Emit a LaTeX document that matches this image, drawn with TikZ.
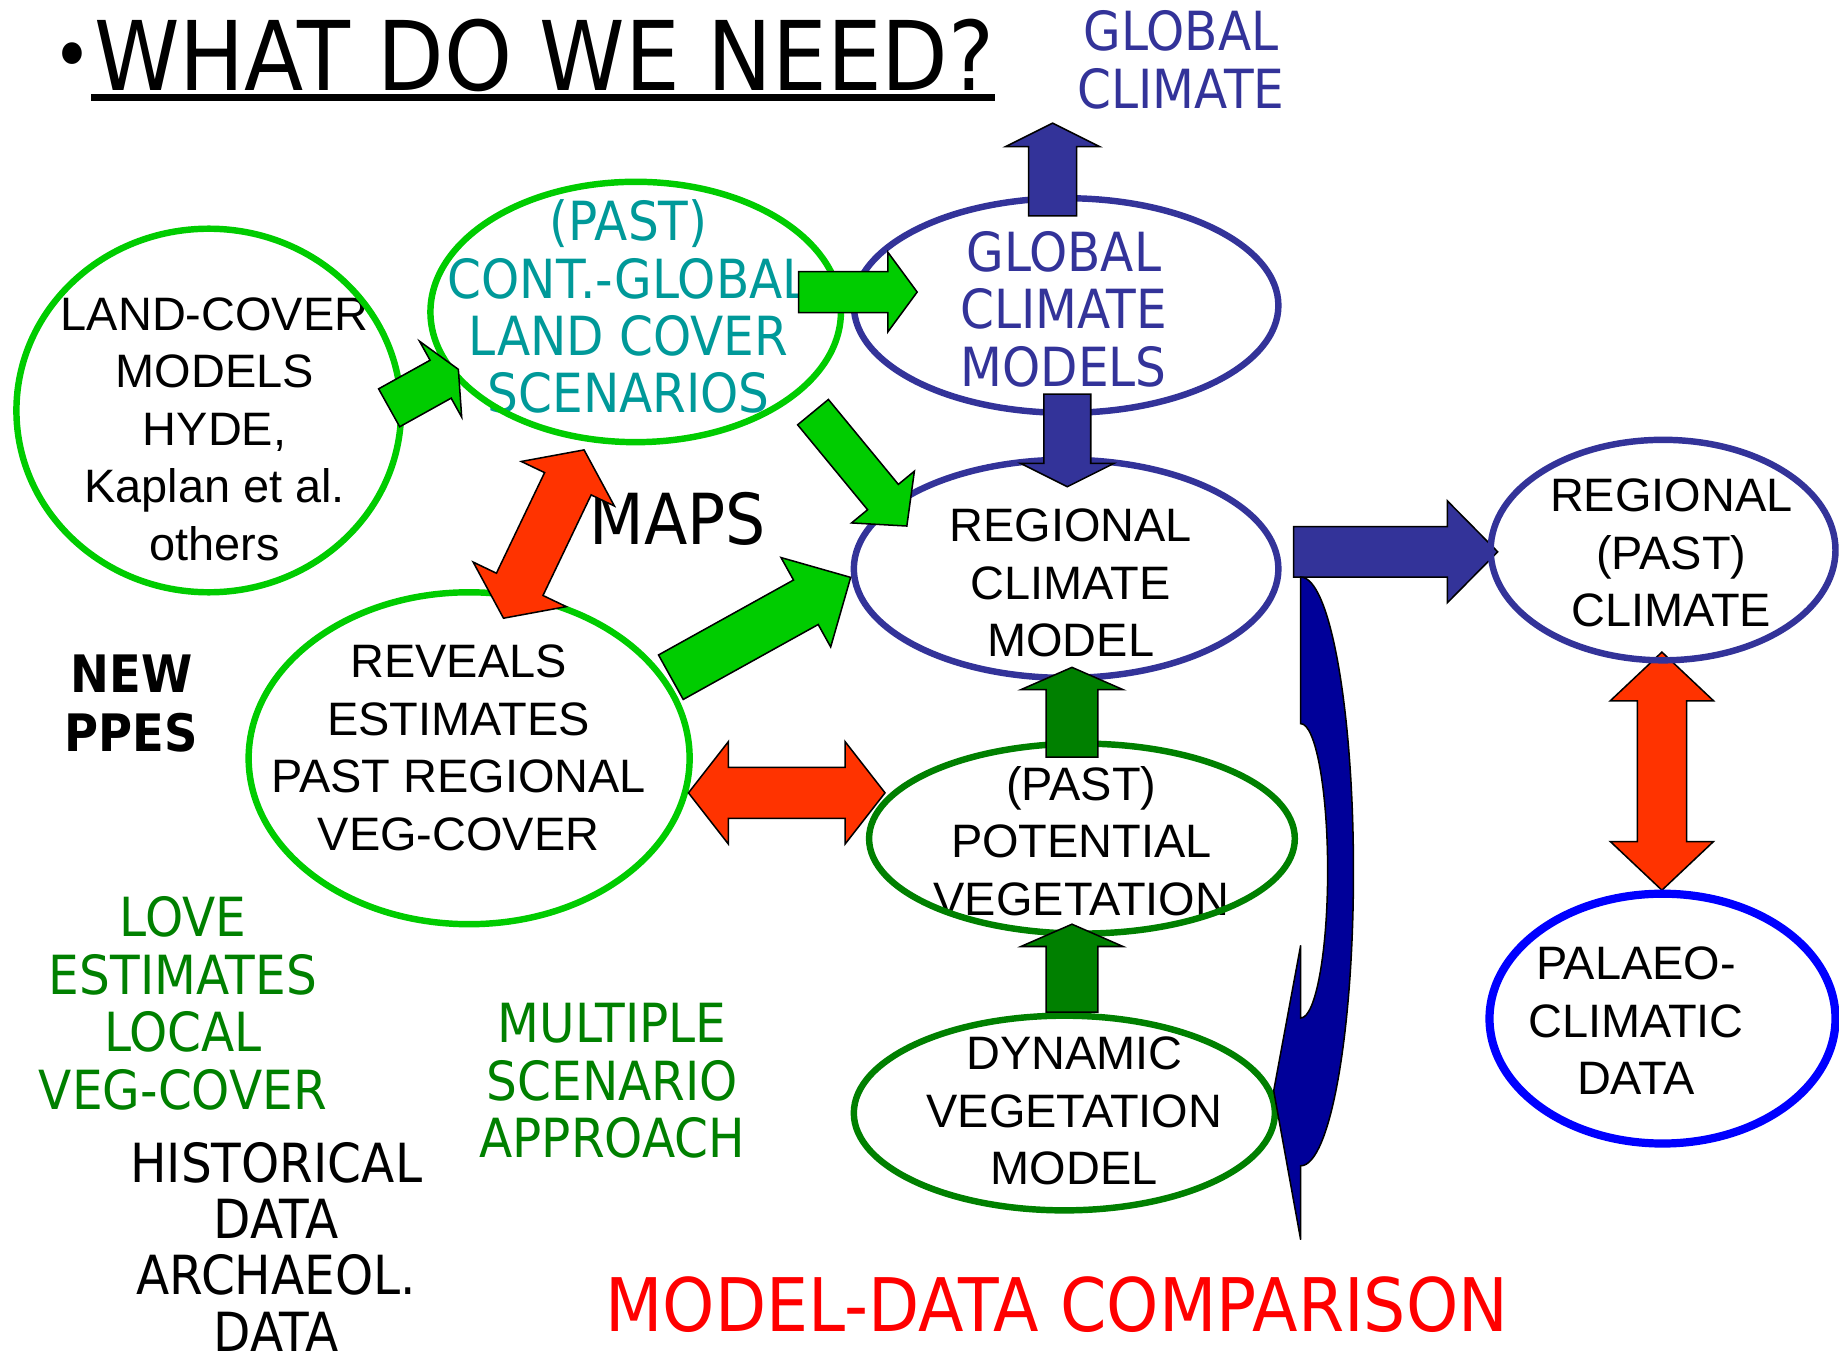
\documentclass[tikz,border=0pt]{standalone}
\usepackage{fontspec}
\setmainfont{Liberation Sans}
\newfontfamily\comic[FakeStretch=0.9]{DejaVu Sans}
\usetikzlibrary{shapes.geometric,calc}

\definecolor{lgreen}{HTML}{00CC00}
\definecolor{dgreen}{HTML}{008000}
\definecolor{navy}{HTML}{333399}
\definecolor{tealtxt}{HTML}{009999}
\definecolor{redarr}{HTML}{FF3300}
\definecolor{deepblue}{HTML}{000099}

\tikzset{
  ell/.style={draw, ellipse, line width=5.5pt, inner sep=0pt},
  blk/.style={draw=black, line width=1.3pt, line join=miter},
  atxt/.style={font=\fontsize{40}{49}\selectfont, align=center, inner sep=0pt},
  ctxt/.style={font=\comic\fontsize{46}{49}\selectfont, align=center, inner sep=0pt},
}

% block arrow: [style]{from}{to}{half shaft}{half head}{head length}
\newcommand\blockarrow[6][]{%
  \path ($(#3)!#6pt!(#2)$) coordinate (hd);
  \draw[blk,#1] ($(#2)!#4pt!90:(#3)$) -- ($(hd)!#4pt!-90:(#2)$) -- ($(hd)!#5pt!-90:(#2)$)
    -- (#3) -- ($(hd)!#5pt!90:(#2)$) -- ($(hd)!#4pt!90:(#2)$) -- ($(#2)!#4pt!-90:(#3)$) -- cycle;
}
% double block arrow, same arguments
\newcommand\dblarrow[6][]{%
  \path ($(#2)!#6pt!(#3)$) coordinate (ha) ($(#3)!#6pt!(#2)$) coordinate (hb);
  \draw[blk,#1] (#2) -- ($(ha)!#5pt!90:(#3)$) -- ($(ha)!#4pt!90:(#3)$) -- ($(hb)!#4pt!-90:(#2)$)
    -- ($(hb)!#5pt!-90:(#2)$) -- (#3) -- ($(hb)!#5pt!90:(#2)$) -- ($(hb)!#4pt!90:(#2)$)
    -- ($(ha)!#4pt!-90:(#3)$) -- ($(ha)!#5pt!-90:(#3)$) -- cycle;
}

\begin{document}
\begin{tikzpicture}[x=1pt,y=-1pt]
  \path[use as bounding box, fill=white] (0,0) rectangle (1568,1165);

  % title
  \node[ctxt, font=\comic\fontsize{82}{90}\selectfont, anchor=base west] (title) at (80,77) {WHAT DO WE NEED?};
  \node[ctxt, font=\comic\fontsize{64}{64}\selectfont] (bullet) at (62,53) {•};
  \draw[line width=6pt] ([xshift=-2pt,yshift=-6pt]title.base west) -- ([yshift=-6pt]title.base east);

  % texts
  \node[ctxt, text=navy] (glob) at (1007,51) {GLOBAL\\CLIMATE};
  \node[atxt] (lcmtxt) at (183,366) {LAND-COVER\\MODELS\\HYDE,\\Kaplan et al.\\others};
  \node[ctxt, text=tealtxt] (pasttxt) at (536,261.5) {(PAST)\\CONT.-GLOBAL\\LAND COVER\\SCENARIOS};
  \node[ctxt, text=navy] (gcmtxt) at (907,263.5) {GLOBAL\\CLIMATE\\MODELS};
  \node[atxt] (rcmtxt) at (913,497) {REGIONAL\\CLIMATE\\MODEL};
  \node[atxt] (revtxt) at (391,637.5) {REVEALS\\ESTIMATES\\PAST REGIONAL\\VEG-COVER};
  \node[atxt] (ppvtxt) at (922,717) {(PAST)\\POTENTIAL\\VEGETATION};
  \node[atxt] (dvmtxt) at (916,947.5) {DYNAMIC\\VEGETATION\\MODEL};
  \node[atxt] (rpctxt) at (1425,471.5) {REGIONAL\\(PAST)\\CLIMATE};
  \node[atxt] (pcdtxt) at (1395,870.5) {PALAEO-\\CLIMATIC\\DATA};
  \node[ctxt, font=\comic\bfseries\fontsize{44}{50}\selectfont] (ppes) at (112,600) {NEW\\PPES};
  \node[ctxt, text=dgreen] (love) at (156,855.5) {LOVE\\ESTIMATES\\LOCAL\\VEG-COVER};
  \node[ctxt, text=dgreen] (multi) at (522,921.5) {MULTIPLE\\SCENARIO\\APPROACH};
  \node[ctxt, font=\comic\fontsize{46}{48}\selectfont] (hist) at (235.5,1063) {HISTORICAL\\DATA\\ARCHAEOL.\\DATA};
  \node[ctxt, font=\comic\fontsize{60}{62}\selectfont] (maps) at (578,442) {MAPS};
  \node[ctxt, text=red, font=\comic\fontsize{63}{66}\selectfont] (mdc) at (901,1112) {MODEL-DATA COMPARISON};

  % ellipses
  \node[ell, draw=lgreen, minimum width=328pt, minimum height=310pt] (lcm) at (178,350) {};
  \node[ell, draw=lgreen, minimum width=350pt, minimum height=222pt] (past) at (542,266) {};
  \node[ell, draw=navy, minimum width=362pt, minimum height=183pt] (gcm) at (909,260.5) {};
  \node[ell, draw=navy, minimum width=362pt, minimum height=186pt] (rcm) at (909,485) {};
  \node[ell, draw=lgreen, minimum width=376pt, minimum height=283pt] (rev) at (400,646.5) {};
  \node[ell, draw=dgreen, minimum width=363pt, minimum height=162pt] (ppv) at (922.5,715) {};
  \node[ell, draw=dgreen, minimum width=359pt, minimum height=166pt] (dvm) at (907.5,949) {};

  % arrow ends
  \coordinate (lcm-a) at (331.8,347.7);  \coordinate (past-a) at (390.8,314.9);
  \coordinate (past-b) at (681,249);     \coordinate (gcm-b) at (782,249);
  \coordinate (past-c) at (693.2,351.4); \coordinate (rcm-c) at (773.2,448.5);
  \coordinate (rev-d) at (572,577.4);    \coordinate (rcm-d) at (725.3,492.3);
  \coordinate (dvm-e) at (914,863);      \coordinate (ppv-e) at (914,788);
  \coordinate (ppv-f) at (914,645.5);    \coordinate (rcm-f) at (914,569);
  \coordinate (gcm-g) at (897.5,184);    \coordinate (top-g) at (897.5,105);
  \coordinate (gcm-h) at (910,336);      \coordinate (rcm-h) at (910,415);
  \coordinate (rcm-i) at (1103,470.5);   \coordinate (rpc-i) at (1277,470.5);
  \coordinate (past-j) at (498,383.6);   \coordinate (rev-j) at (429.3,527.1);
  \coordinate (rev-k) at (587,676);      \coordinate (ppv-k) at (754.6,676);
  \coordinate (rpc-l) at (1417,556);     \coordinate (pcd-l) at (1417,759);

  \blockarrow[fill=lgreen]{lcm-a}{past-a}{18.5}{37}{17.3}
  \blockarrow[fill=lgreen]{past-b}{gcm-b}{17.5}{34}{25}
  \blockarrow[fill=lgreen]{past-c}{rcm-c}{17}{34.7}{32}
  \blockarrow[fill=lgreen]{rev-d}{rcm-d}{21.7}{43.6}{43.7}
  \blockarrow[fill=dgreen]{dvm-e}{ppv-e}{22}{43.5}{19}
  \blockarrow[fill=dgreen]{ppv-f}{rcm-f}{22}{43.5}{19}
  \blockarrow[fill=navy]{gcm-g}{top-g}{20.5}{40}{20}
  \blockarrow[fill=navy]{gcm-h}{rcm-h}{20}{40}{20}
  \blockarrow[fill=navy]{rcm-i}{rpc-i}{21.5}{43.5}{43}
  \dblarrow[fill=redarr]{past-j}{rev-j}{22}{44}{32}
  \dblarrow[fill=redarr]{rev-k}{ppv-k}{21.7}{43.6}{34}
  \dblarrow[fill=redarr]{rpc-l}{pcd-l}{21}{44}{41.5}

  \node[ell, draw=navy, minimum width=294pt, minimum height=188pt] (rpc) at (1418,469) {};
  \node[ell, draw=blue, line width=7pt, minimum width=295pt, minimum height=213pt] (pcd) at (1417.5,868.5) {};

  % curved arrow back down
  \coordinate (cv) at (1109,492);
  \draw[blk, fill=deepblue] (cv) arc[start angle=-90, end angle=90, x radius=45, y radius=251]
    -- ++(0,63) -- (1086,930) -- (1109,806) -- (1109,868)
    arc[start angle=90, end angle=-90, x radius=23, y radius=125.5] -- cycle;
\end{tikzpicture}
\end{document}
